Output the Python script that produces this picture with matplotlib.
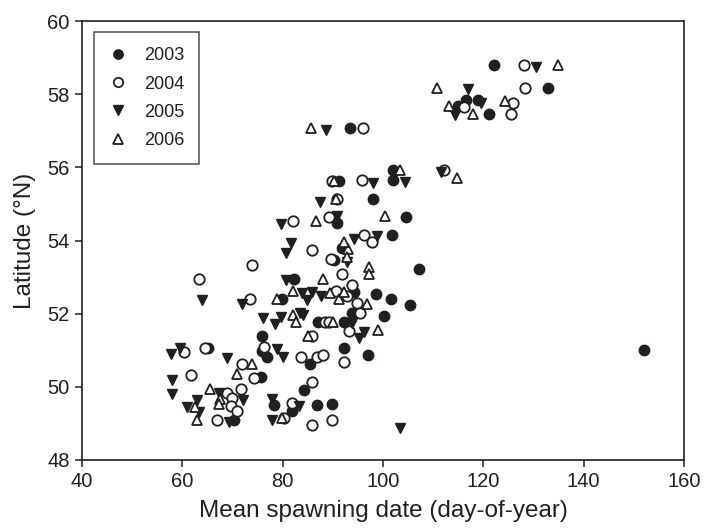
import matplotlib
matplotlib.use("Agg")
import matplotlib.pyplot as plt

plt.rcParams['font.family'] = ['Liberation Sans', 'DejaVu Sans']

# mean spawning date (day-of-year), latitude (deg N)
day_2003 = [82.3, 79.9, 75.9, 75.8, 76.9, 65.2, 75.7, 70.3, 78.3, 81.9,
            90.3, 107.1, 94.3, 98.6, 101.6, 105.3, 93.9, 100.1, 87.1, 92.3,
            85.5, 92.3, 97.1, 84.3, 86.8, 89.9, 93.5, 115.0, 121.1, 101.9,
            91.3, 101.9, 98.1, 90.9, 104.5, 101.8, 91.9, 122.1, 132.8, 116.6,
            119.0, 152.0]
lat_2003 = [52.95, 52.40, 51.39, 50.99, 50.81, 51.07, 50.26, 49.08, 49.51, 49.35,
            53.47, 53.22, 52.58, 52.53, 52.40, 52.24, 52.03, 51.94, 51.78, 51.78,
            50.62, 51.07, 50.86, 49.92, 49.49, 49.54, 57.08, 57.69, 57.46, 55.93,
            55.63, 55.66, 55.13, 54.49, 54.64, 54.15, 53.79, 58.80, 58.16, 57.84,
            57.83, 51.02]

day_2004 = [73.9, 63.4, 73.4, 76.3, 83.6, 60.3, 64.6, 71.9, 74.3, 61.8,
            68.9, 71.6, 69.9, 69.6, 70.9, 66.9, 81.9, 85.9, 89.6, 91.9,
            90.6, 92.9, 93.9, 94.9, 95.5, 88.5, 89.3, 93.3, 85.9, 86.9,
            88.1, 92.3, 85.9, 80.3, 85.9, 89.9, 96.1, 116.2, 112.1, 89.9,
            95.9, 90.9, 82.1, 89.3, 96.3, 97.9, 128.1, 128.3, 125.9, 125.6]
lat_2004 = [53.33, 52.95, 52.40, 51.08, 50.81, 50.96, 51.07, 50.62, 50.24, 50.33,
            49.84, 49.94, 49.69, 49.48, 49.34, 49.08, 49.55, 53.74, 53.50, 53.09,
            52.63, 52.47, 52.79, 52.29, 52.03, 51.78, 51.78, 51.53, 51.39, 50.81,
            50.87, 50.67, 50.12, 49.16, 48.96, 49.10, 57.08, 57.66, 55.93, 55.63,
            55.66, 55.13, 54.52, 54.64, 54.15, 53.97, 58.80, 58.16, 57.75, 57.46]

day_2005 = [80.7, 80.7, 63.9, 71.9, 83.4, 76.1, 78.4, 79.7, 78.9, 80.1,
            57.8, 59.6, 68.9, 57.9, 57.9, 67.3, 72.1, 62.9, 60.9, 63.3,
            69.3, 77.9, 77.9, 92.9, 83.9, 84.9, 85.9, 87.6, 84.1, 93.9,
            95.3, 96.3, 83.3, 103.3, 88.6, 114.4, 119.6, 111.5, 98.1, 104.3,
            87.4, 79.7, 90.9, 81.7, 94.3, 98.9, 130.6, 116.9]
lat_2005 = [53.67, 52.92, 52.36, 52.26, 52.02, 51.88, 51.72, 51.90, 51.04, 50.81,
            50.90, 51.06, 50.78, 50.19, 49.81, 49.84, 49.64, 49.64, 49.46, 49.31,
            49.05, 49.66, 49.10, 53.42, 52.56, 52.38, 52.60, 52.47, 51.97, 51.74,
            51.33, 51.51, 49.48, 48.87, 57.02, 57.43, 57.76, 55.88, 55.57, 55.61,
            55.06, 54.45, 54.66, 53.94, 54.03, 54.13, 58.73, 58.15]

day_2006 = [82.1, 78.8, 82.1, 82.6, 73.9, 70.9, 65.5, 67.6, 67.3, 62.6,
            62.9, 79.9, 93.0, 97.3, 97.3, 88.1, 89.5, 91.3, 92.3, 96.8,
            90.1, 99.1, 85.1, 85.6, 113.2, 117.9, 103.3, 114.8, 90.3, 90.6,
            86.6, 100.3, 134.9, 124.3, 110.8, 92.3, 92.9]
lat_2006 = [52.63, 52.40, 51.95, 51.78, 50.62, 50.36, 49.94, 49.66, 49.54, 49.46,
            49.08, 49.14, 53.76, 53.27, 53.09, 52.95, 52.56, 52.40, 52.59, 52.27,
            51.78, 51.56, 51.39, 57.08, 57.67, 57.46, 55.93, 55.70, 55.63, 55.13,
            54.52, 54.66, 58.80, 57.82, 58.16, 53.97, 53.54]

ink = "#231f20"

fig = plt.figure(figsize=(7.09, 5.28), dpi=100)
ax = fig.add_axes([0.1157, 0.1288, 0.849, 0.8314])

ms = 7.5
ax.plot(day_2003, lat_2003, "o", ms=ms, color=ink, mec=ink, label="2003")
ax.plot(day_2004, lat_2004, "o", ms=ms, mfc="white", mec=ink, mew=1.3, label="2004")
ax.plot(day_2005, lat_2005, "v", ms=ms, color=ink, mec=ink, label="2005")
ax.plot(day_2006, lat_2006, "^", ms=ms, mfc="white", mec=ink, mew=1.3, label="2006")

ax.set_xlim(40, 160)
ax.set_ylim(48, 60)
ax.set_xticks(range(40, 161, 20))
ax.set_yticks(range(48, 61, 2))
ax.tick_params(direction="out", length=5, width=1.1, labelsize=14.5, color=ink,
               labelcolor=ink, pad=4)
for s in ax.spines.values():
    s.set_linewidth(1.2)
    s.set_color(ink)

ax.set_xlabel("Mean spawning date (day-of-year)", fontsize=17.5, color=ink, labelpad=6)
ax.set_ylabel("Latitude (°N)", fontsize=17.5, color=ink, labelpad=8)

leg = ax.legend(loc="upper left", bbox_to_anchor=(0.02, 0.975), borderaxespad=0,
                fontsize=13, frameon=True, fancybox=False, handlelength=1.0,
                handletextpad=0.9, labelspacing=0.62, borderpad=0.85, markerscale=0.9)
leg.get_frame().set_edgecolor(ink)
leg.get_frame().set_linewidth(1.1)
for t in leg.get_texts():
    t.set_color(ink)

fig.savefig("out.png", dpi=100)
